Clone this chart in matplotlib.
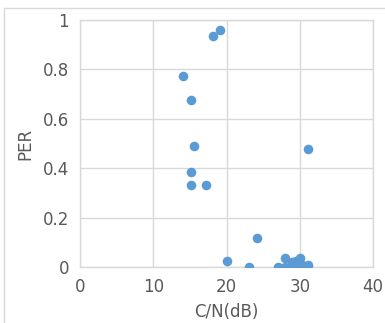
import matplotlib.pyplot as plt
from matplotlib.patches import Rectangle

plt.rcParams['font.family'] = ['DejaVu Sans']

# C/N (dB) vs PER measurements
cn = [14.0, 15.1, 18.1, 19.1, 15.6, 15.1, 15.1, 17.2, 31.1, 24.1, 20.1, 23.0,
      27.0, 28.0, 28.0, 29.0, 29.0, 29.5, 30.0, 30.0, 30.3, 31.1]
per = [0.773, 0.678, 0.935, 0.959, 0.492, 0.385, 0.331, 0.331, 0.477, 0.118, 0.023, 0.0,
       0.0, 0.036, 0.0, 0.02, 0.0, 0.025, 0.036, 0.0, 0.01, 0.01]

xticks = [0, 10, 20, 30, 40]
yticks = [0, 0.2, 0.4, 0.6, 0.8, 1]
ytick_labels = ['0', '0.2', '0.4', '0.6', '0.8', '1']

grid_col = '#D9D9D9'
text_col = '#595959'
dot_col = '#5B9BD5'

fig = plt.figure(figsize=(3.85, 3.23), dpi=100)
ax = fig.add_axes([0.208, 0.173, 0.761, 0.765])

ax.scatter(cn, per, s=48, color=dot_col, zorder=3, linewidths=0)

ax.set_xlim(0, 40)
ax.set_ylim(0, 1)
ax.set_xticks(xticks)
ax.set_yticks(yticks)
ax.set_yticklabels(ytick_labels)
ax.grid(True, color=grid_col, linewidth=1)
ax.set_axisbelow(True)
for s in ax.spines.values():
    s.set_color(grid_col)
    s.set_linewidth(1)
ax.tick_params(length=0, labelsize=12, labelcolor=text_col, pad=8)

ax.set_xlabel('C/N(dB)', fontsize=12, color=text_col, labelpad=5)
ax.set_ylabel('PER', fontsize=12, color=text_col, labelpad=6)

# chart frame like the spreadsheet export
fig.patches.append(Rectangle((4 / 385, -0.1), 1.2, 1 - 8 / 323 + 0.1,
                             transform=fig.transFigure, fill=False,
                             edgecolor=grid_col, linewidth=1))

fig.savefig('out.png', dpi=100)
